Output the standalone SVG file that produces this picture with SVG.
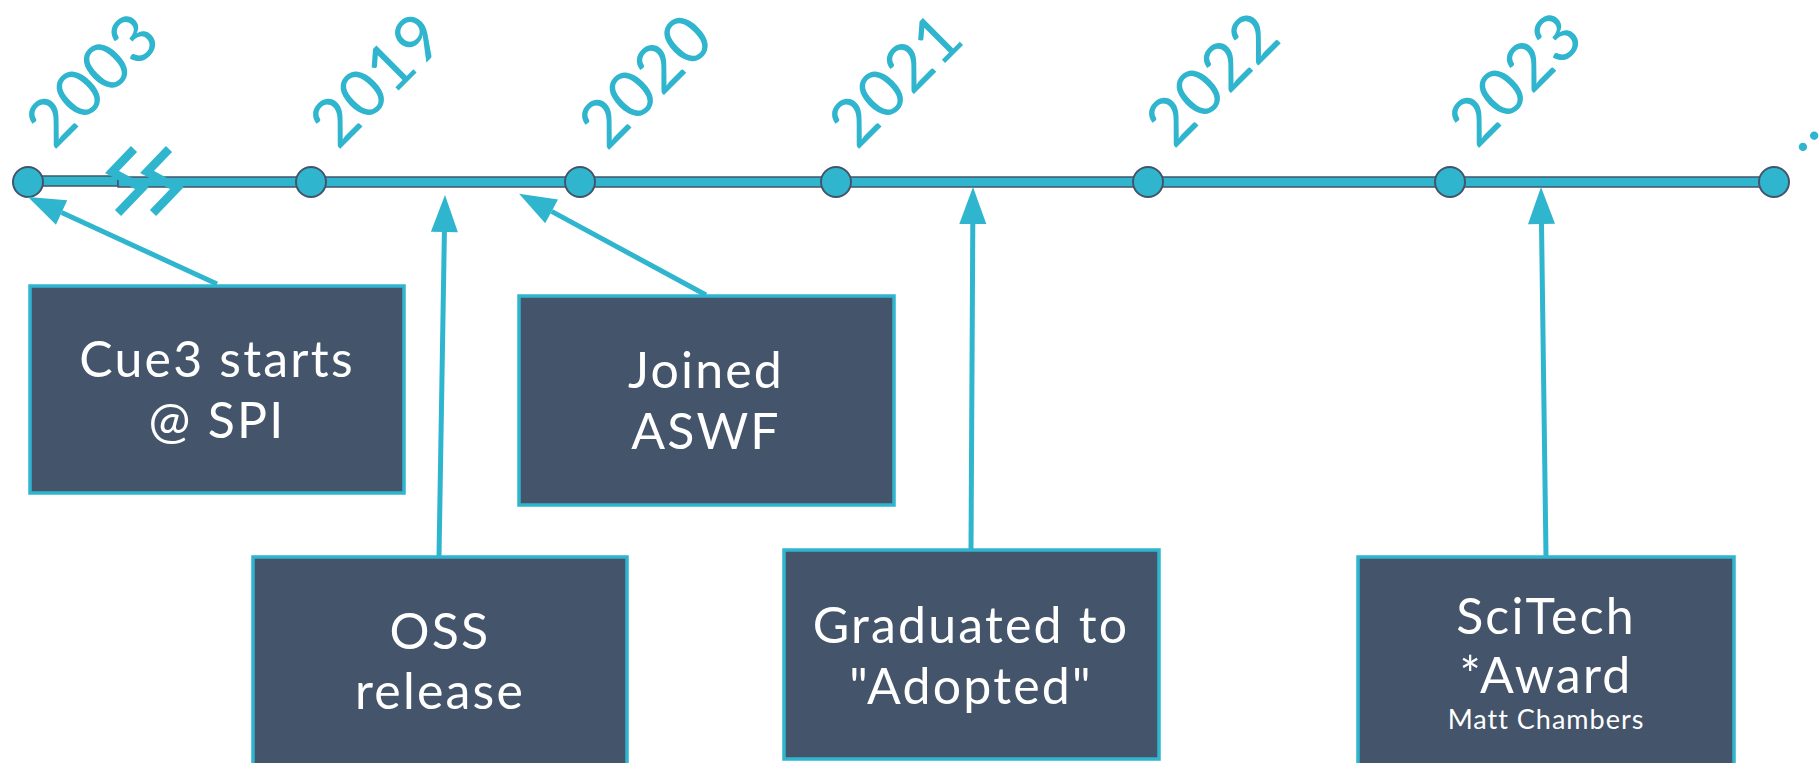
<svg xmlns="http://www.w3.org/2000/svg" width="1819" height="763" viewBox="0 0 1819 763">
<style>
.year{font-family:Lato,"Open Sans",sans-serif;font-size:66px;fill:#2FB5CE;letter-spacing:0.5px;}
.box{fill:#44546A;stroke:#2FB5CE;stroke-width:3.5;}
.lbl{font-family:Lato,"Open Sans",sans-serif;font-size:50px;fill:#FFFFFF;text-anchor:middle;letter-spacing:2.2px;}
.small{font-family:Lato,"Open Sans",sans-serif;font-size:27px;fill:#FFFFFF;text-anchor:middle;letter-spacing:1px;}
.conn{stroke:#2FB5CE;stroke-width:5;fill:none;marker-end:url(#ah);}
.dot{fill:#2FB5CE;stroke:#44546A;stroke-width:2;}
.brk{stroke:#2FB5CE;stroke-width:8.5;fill:none;stroke-linejoin:miter;}
</style>
<defs>
<marker id="ah" markerUnits="userSpaceOnUse" markerWidth="40" markerHeight="30" refX="0" refY="15" orient="auto" overflow="visible">
<path d="M0,1.5 L37,15 L0,28.5 z" fill="#2FB5CE"/>
</marker>
</defs>
<g id="timeline">
<rect x="28" y="176" width="90" height="10" fill="#2FB5CE" stroke="#44546A" stroke-width="1.5"/>
<rect x="118" y="177" width="1656" height="10" fill="#2FB5CE" stroke="#44546A" stroke-width="1.5"/>
<polyline class="brk" points="134,149 112,172 142,188 118,213"/>
<polyline class="brk" points="169,149 147,172 177,188 153,213"/>
<circle class="dot" cx="28" cy="182" r="15"/>
<circle class="dot" cx="311" cy="182" r="15"/>
<circle class="dot" cx="580" cy="182" r="15"/>
<circle class="dot" cx="836" cy="182" r="15"/>
<circle class="dot" cx="1148" cy="182" r="15"/>
<circle class="dot" cx="1450" cy="182" r="15"/>
<circle class="dot" cx="1774" cy="182" r="15"/>
<text class="year" transform="translate(54,151) rotate(-45)">2003</text>
<text class="year" transform="translate(338,151) rotate(-45)">2019</text>
<text class="year" transform="translate(607,152) rotate(-45)">2020</text>
<text class="year" transform="translate(857,151) rotate(-45)">2021</text>
<text class="year" transform="translate(1174,150) rotate(-45)">2022</text>
<text class="year" transform="translate(1477,150) rotate(-45)">2023</text>
<text class="year" transform="translate(1800,155) rotate(-45)">...</text>
</g>
<g id="connectors">
<line class="conn" x1="217" y1="284" x2="61.6" y2="212.5"/>
<line class="conn" x1="439" y1="556" x2="444.4" y2="232"/>
<line class="conn" x1="706" y1="295" x2="551.6" y2="211.4"/>
<line class="conn" x1="971" y1="550" x2="972.8" y2="224"/>
<line class="conn" x1="1546" y1="556" x2="1541.5" y2="224"/>
</g>
<g id="node-cue3">
<rect class="box" x="30" y="286" width="374" height="207"/>
<text class="lbl" x="217" y="377">Cue3 starts</text>
<text class="lbl" x="217" y="438">@ SPI</text>
</g>
<g id="node-oss">
<rect class="box" x="253" y="557" width="374" height="215"/>
<text class="lbl" x="440" y="649">OSS</text>
<text class="lbl" x="440" y="709">release</text>
</g>
<g id="node-aswf">
<rect class="box" x="519" y="296" width="375" height="209"/>
<text class="lbl" x="706" y="388">Joined</text>
<text class="lbl" x="706" y="449">ASWF</text>
</g>
<g id="node-adopted">
<rect class="box" x="784" y="550" width="375" height="209"/>
<text class="lbl" x="971" y="643">Graduated to</text>
<text class="lbl" x="971" y="704">"Adopted"</text>
</g>
<g id="node-scitech">
<rect class="box" x="1358" y="557" width="376" height="215"/>
<text class="lbl" x="1546" y="634">SciTech</text>
<text class="lbl" x="1546" y="693">*Award</text>
<text class="small" x="1546" y="729">Matt Chambers</text>
</g>
</svg>
